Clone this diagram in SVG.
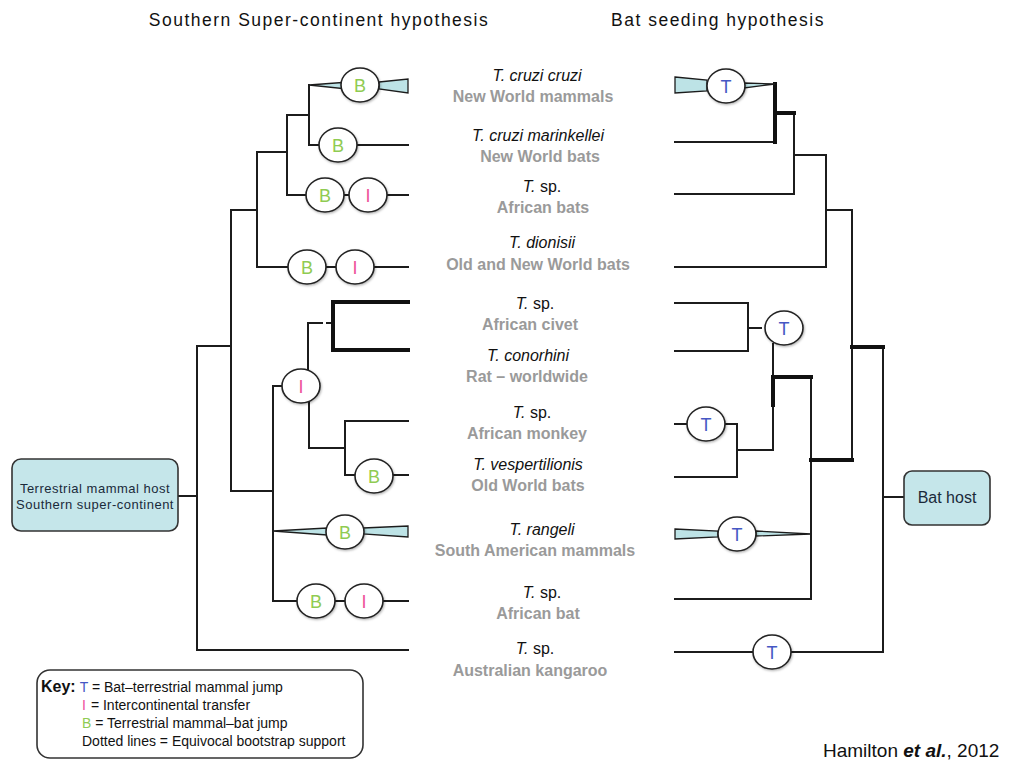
<svg xmlns="http://www.w3.org/2000/svg" width="1011" height="760" viewBox="0 0 1011 760">
<defs>
<filter id="sh" x="-30%" y="-30%" width="160%" height="160%"><feDropShadow dx="0.8" dy="1.2" stdDeviation="1" flood-color="#000" flood-opacity="0.3"/></filter>
<style>
.ln{fill:none;stroke:#1c1c1c;stroke-width:2;stroke-linecap:square}
.tk{fill:none;stroke:#111;stroke-width:4;stroke-linecap:square}
.ds{fill:none;stroke:#1c1c1c;stroke-width:2;stroke-dasharray:14 5}
.wd{fill:#bde3e6;stroke:#1c1c1c;stroke-width:1.3}
.ev{fill:#fff;stroke:#222;stroke-width:1.6;filter:url(#sh)}
.el{font-family:"Liberation Sans",Arial,sans-serif;font-size:18px;text-anchor:middle}
.B{fill:#8fcb52}.I{fill:#ee4f9a}.T{fill:#4557c4}
.sp{font-family:"Liberation Sans",Arial,sans-serif;font-size:16px;font-style:italic;fill:#111;text-anchor:middle}
.up{font-style:normal}
.hs{font-family:"Liberation Sans",Arial,sans-serif;font-size:16px;font-weight:bold;fill:#9a9a9a;text-anchor:middle}
.ti{font-family:"Liberation Sans",Arial,sans-serif;font-size:17.5px;letter-spacing:1.5px;fill:#111;text-anchor:middle}
.bx{fill:#c5e6ea;stroke:#333;stroke-width:1.6}
.kt{font-family:"Liberation Sans",Arial,sans-serif;font-size:14px;fill:#111}
</style>
</defs>
<rect width="1011" height="760" fill="#fff"/>

<g id="titles">
<text class="ti" x="319" y="26">Southern Super-continent hypothesis</text>
<text class="ti" x="718" y="26">Bat seeding hypothesis</text>
</g>

<g id="connectors">
<path class="ln" d="M309,85 V145 M309,145 H320 M357,145 H408 M287,115 H309 M287,115 V195 M287,195 H306 M344,195 H349 M387,195 H408 M257,152 H287 M257,152 V267 M257,267 H288 M326,267 H336 M374,267 H408 M231,210 H257 M231,210 V491 M197,346 H231 M197,346 V650 M197,650 H408 M178,496 H197 M231,491 H273 M273,386 V601 M273,386 H282 M308,370 V323 H322 M309,402 V448 H345 M345,421 V475 M345,421 H408 M345,475 H355 M393,475 H408 M273,601 H297 M335,601 H345 M383,601 H408"/>
<path class="ln" d="M327,323 H333"/>
<path class="tk" d="M333,302 V350 M333,302 H408 M333,350 H408"/>
<polygon class="wd" points="309,85 342,82.5 342,88.5"/>
<polygon class="wd" points="379,82 408,79 408,93 379,89"/>
<polygon class="wd" points="273,531 327,528 327,535"/>
<polygon class="wd" points="363,528 408,526 408,537 363,534"/>
<path class="ln" d="M675,142 H775 M794,113 V194 M675,194 H794 M794,155 H826 M826,155 V267 M675,267 H826 M826,210 H852 M852,210 V460 M883,347 V652 M883,497 H904 M675,303 H748 M675,351 H748 M748,303 V351 M773,344 V450 M811,377 V599 M737,450 H773 M737,424 V477 M725,424 H737 M675,424 H687 M675,477 H737 M675,599 H811 M675,652 H753 M791,652 H883"/>
<path class="ds" d="M748,328 H765"/>
<path class="tk" d="M775,84 V142 M775,113 H794 M852,347 H883 M773,377 H811 M773,377 V405 M811,460 H852"/>
<polygon class="wd" points="675,77 707,80 707,91 675,93"/>
<polygon class="wd" points="744,83 775,84 744,88"/>
<polygon class="wd" points="675,529 718,531 718,537 675,539"/>
<polygon class="wd" points="756,531 811,534 756,536"/>
</g>

<g id="root-host">
<rect class="bx" x="12" y="459" width="166" height="72" rx="9"/>
<text font-family="Liberation Sans, Arial, sans-serif" font-size="13" letter-spacing="0.5" fill="#1a2a3a" text-anchor="middle"><tspan x="95" y="493">Terrestrial mammal host</tspan><tspan x="95" y="509">Southern super-continent</tspan></text>
</g>
<g id="bat-host">
<rect class="bx" x="904" y="471" width="86" height="54" rx="8"/>
<text font-family="Liberation Sans, Arial, sans-serif" font-size="16" fill="#1a2a3a" text-anchor="middle" x="947" y="503">Bat host</text>
</g>

<g id="events-left">
<g id="evL1"><ellipse class="ev" cx="360" cy="85" rx="19" ry="17"/><text class="el B" x="360" y="92">B</text></g>
<g id="evL2"><ellipse class="ev" cx="338" cy="145" rx="19" ry="17"/><text class="el B" x="338" y="152">B</text></g>
<g id="evL3"><ellipse class="ev" cx="325" cy="195" rx="19" ry="17"/><text class="el B" x="325" y="202">B</text></g>
<g id="evL4"><ellipse class="ev" cx="368" cy="195" rx="19" ry="17"/><text class="el I" x="368" y="202">I</text></g>
<g id="evL5"><ellipse class="ev" cx="307" cy="267" rx="19" ry="17"/><text class="el B" x="307" y="274">B</text></g>
<g id="evL6"><ellipse class="ev" cx="355" cy="267" rx="19" ry="17"/><text class="el I" x="355" y="274">I</text></g>
<g id="evL7"><ellipse class="ev" cx="301" cy="386" rx="19" ry="17"/><text class="el I" x="301" y="393">I</text></g>
<g id="evL8"><ellipse class="ev" cx="374" cy="476" rx="19" ry="17"/><text class="el B" x="374" y="483">B</text></g>
<g id="evL9"><ellipse class="ev" cx="345" cy="532" rx="19" ry="17"/><text class="el B" x="345" y="539">B</text></g>
<g id="evL10"><ellipse class="ev" cx="316" cy="601" rx="19" ry="17"/><text class="el B" x="316" y="608">B</text></g>
<g id="evL11"><ellipse class="ev" cx="364" cy="601" rx="19" ry="17"/><text class="el I" x="364" y="608">I</text></g>
</g>

<g id="events-right">
<g id="evR1"><ellipse class="ev" cx="726" cy="86" rx="19" ry="17"/><text class="el T" x="726" y="93">T</text></g>
<g id="evR2"><ellipse class="ev" cx="784" cy="328" rx="19" ry="17"/><text class="el T" x="784" y="335">T</text></g>
<g id="evR3"><ellipse class="ev" cx="706" cy="424" rx="19" ry="17"/><text class="el T" x="706" y="431">T</text></g>
<g id="evR4"><ellipse class="ev" cx="737" cy="534" rx="19" ry="17"/><text class="el T" x="737" y="541">T</text></g>
<g id="evR5"><ellipse class="ev" cx="772" cy="652" rx="19" ry="17"/><text class="el T" x="772" y="659">T</text></g>
</g>

<g id="taxon1"><text class="sp" x="537" y="81">T. cruzi cruzi</text><text class="hs" x="533" y="102">New World mammals</text></g>
<g id="taxon2"><text class="sp" x="538" y="141">T. cruzi marinkellei</text><text class="hs" x="540" y="162">New World bats</text></g>
<g id="taxon3"><text class="sp" x="542" y="192">T. <tspan class="up">sp.</tspan></text><text class="hs" x="543" y="213">African bats</text></g>
<g id="taxon4"><text class="sp" x="542" y="248">T. dionisii</text><text class="hs" x="538" y="270">Old and New World bats</text></g>
<g id="taxon5"><text class="sp" x="535" y="309">T. <tspan class="up">sp.</tspan></text><text class="hs" x="530" y="330">African civet</text></g>
<g id="taxon6"><text class="sp" x="528" y="361">T. conorhini</text><text class="hs" x="527" y="382">Rat – worldwide</text></g>
<g id="taxon7"><text class="sp" x="532" y="418">T. <tspan class="up">sp.</tspan></text><text class="hs" x="527" y="439">African monkey</text></g>
<g id="taxon8"><text class="sp" x="528" y="470">T. vespertilionis</text><text class="hs" x="528" y="491">Old World bats</text></g>
<g id="taxon9"><text class="sp" x="542" y="535">T. rangeli</text><text class="hs" x="535" y="556">South American mammals</text></g>
<g id="taxon10"><text class="sp" x="542" y="598">T. <tspan class="up">sp.</tspan></text><text class="hs" x="538" y="619">African bat</text></g>
<g id="taxon11"><text class="sp" x="535" y="654">T. <tspan class="up">sp.</tspan></text><text class="hs" x="530" y="676">Australian kangaroo</text></g>

<g id="key">
<rect x="37" y="670" width="326" height="88" rx="13" fill="#fff" stroke="#333" stroke-width="1.6"/>
<text class="kt" x="41" y="692"><tspan font-weight="bold" font-size="16">Key:</tspan><tspan class="T" dx="4">T</tspan> = Bat–terrestrial mammal jump</text>
<text class="kt" x="82" y="710"><tspan class="I">I</tspan><tspan dx="5">= Intercontinental transfer</tspan></text>
<text class="kt" x="82" y="728"><tspan class="B">B</tspan> = Terrestrial mammal–bat jump</text>
<text class="kt" x="82" y="746">Dotted lines = Equivocal bootstrap support</text>
</g>

<g id="citation">
<text font-family="Liberation Sans, Arial, sans-serif" font-size="19" fill="#111" x="823" y="757">Hamilton <tspan font-style="italic" font-weight="bold">et al.</tspan>, 2012</text>
</g>
</svg>
